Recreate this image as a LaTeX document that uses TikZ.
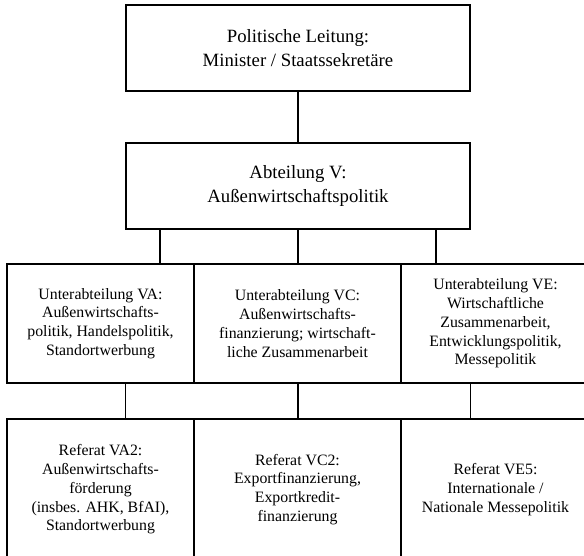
\documentclass[tikz,border=0pt]{standalone}
\usepackage{fontspec}
\setmainfont{Liberation Serif}
\usetikzlibrary{calc}
\tikzset{
  box/.style={draw, line width=1pt, inner sep=0pt, align=center,
    font=\fontsize{13.5}{16}\selectfont},
  bigbox/.style={box, minimum width=10.32cm, minimum height=2.58cm,
    font=\fontsize{16}{20}\selectfont}
}
\begin{document}
\begin{tikzpicture}[line width=1pt]
    \clip (0,0) rectangle (17.52,16.65);
    % Leitung und Abteilung
    \node[bigbox] (leitung) at (8.94,15.21) {Politische Leitung:\\Minister / Staatssekretäre};
    \node[bigbox] (abt) at (8.94,11.07) {Abteilung V:\\Außenwirtschaftspolitik};
    % Unterabteilungen
    \node[box, minimum width=5.61cm, minimum height=3.57cm] (va) at (3.015,6.945)
        {Unterabteilung VA:\\Außenwirtschafts-\\politik, Handelspolitik,\\Standortwerbung};
    \node[box, minimum width=6.21cm, minimum height=3.57cm] (vc) at (8.925,6.945)
        {Unterabteilung VC:\\Außenwirtschafts-\\finanzierung; wirtschaft-\\liche Zusammenarbeit};
    \node[box, minimum width=5.67cm, minimum height=3.57cm] (ve) at (14.865,6.945)
        {Unterabteilung VE:\\Wirtschaftliche\\Zusammenarbeit,\\Entwicklungspolitik,\\Messepolitik};
    % Referate
    \node[box, minimum width=5.61cm, minimum height=4.23cm] (va2) at (3.015,1.965)
        {Referat VA2:\\Außenwirtschafts-\\förderung\\(insbes. AHK, BfAI),\\Standortwerbung};
    \node[box, minimum width=6.21cm, minimum height=4.23cm] (vc2) at (8.925,1.965)
        {Referat VC2:\\Exportfinanzierung,\\Exportkredit-\\finanzierung};
    \node[box, minimum width=5.67cm, minimum height=4.23cm] (ve5) at (14.865,1.965)
        {Referat VE5:\\Internationale /\\Nationale Messepolitik};
    % Verbindungen
    \coordinate (l1) at ($(abt.south west)!.1!(abt.south east)$);
    \coordinate (r1) at ($(abt.south east)!.1!(abt.south west)$);
    \draw (leitung) -- (abt);
    \draw (l1) -- (l1 |- va.north);
    \draw (abt.south) -- (abt.south |- vc.north);
    \draw (r1) -- (r1 |- ve.north);
    \draw (abt.south west |- va.south) -- (abt.south west |- va2.north);
    \draw (abt.south |- vc.south) -- (abt.south |- vc2.north);
    \draw (abt.south east |- ve.south) -- (abt.south east |- ve5.north);
\end{tikzpicture}
\end{document}
